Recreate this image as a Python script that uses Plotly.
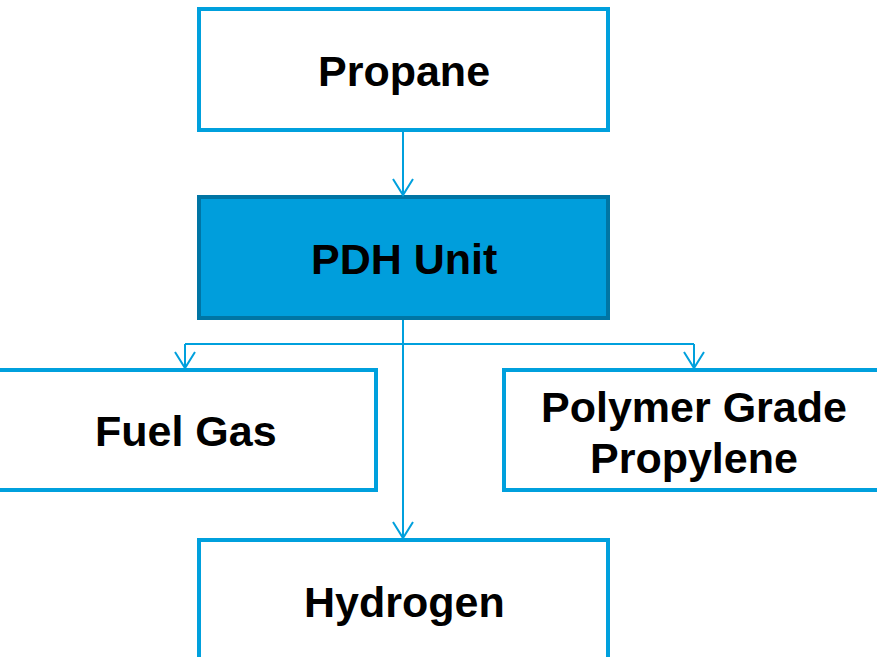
import plotly.graph_objects as go

# Diagram content
labels = ["Propane", "PDH Unit", "Fuel Gas", "Polymer Grade<br>Propylene", "Hydrogen"]
# edges: (from index, to index)
edges = [(0, 1), (1, 2), (1, 3), (1, 4)]

# Geometry (pixel-space, y downward)
W, H = 877, 657
boxes = [
    dict(x0=199, x1=608, y0=9, y1=130),     # Propane
    dict(x0=199, x1=608, y0=197, y1=318),   # PDH Unit
    dict(x0=-8, x1=376, y0=370, y1=490),    # Fuel Gas
    dict(x0=504, x1=890, y0=370, y1=490),   # Polymer Grade Propylene
    dict(x0=199, x1=608, y0=540, y1=665),   # Hydrogen
]
text_pos = [(404, 71), (404, 259), (186, 431), (694, 432), (404, 602)]
highlight = 1
branch_y = 344
line_gap = 51

BLUE = "#00A0DD"
FILL_HI = "#009EDC"
BORDER_HI = "#0075A4"
FONT = dict(family="Liberation Sans, Arial", size=43, color="black")

shapes = []
annotations = []
for i, (lab, b) in enumerate(zip(labels, boxes)):
    hi = i == highlight
    shapes.append(dict(type="rect", xref="x", yref="y",
                       x0=b["x0"], x1=b["x1"], y0=b["y0"], y1=b["y1"],
                       line=dict(color=BORDER_HI if hi else BLUE, width=4),
                       fillcolor=FILL_HI if hi else "white", layer="above"))
    cx, cy = text_pos[i]
    parts = lab.split("<br>")
    n = len(parts)
    for k, part in enumerate(parts):
        y = cy + (k - (n - 1) / 2) * line_gap
        annotations.append(dict(x=cx, y=y, xref="x", yref="y", text="<b>%s</b>" % part,
                                showarrow=False, xanchor="center", yanchor="middle",
                                font=FONT))

def line(x0, y0, x1, y1):
    shapes.append(dict(type="line", xref="x", yref="y", x0=x0, y0=y0, x1=x1, y1=y1,
                       line=dict(color=BLUE, width=2), layer="above"))

def arrowhead(x, y):
    shapes.append(dict(type="path", xref="x", yref="y",
                       path="M %f,%f L %f,%f L %f,%f" % (x - 10, y - 16, x, y, x + 10, y - 16),
                       line=dict(color=BLUE, width=2), layer="above"))

cx_main = 403
tips = {2: 185, 3: 694}
for a, b in edges:
    src = boxes[a]
    dst = boxes[b]
    if b in (1, 4):
        line(cx_main, src["y1"] + 2, cx_main, dst["y0"] - 2)
        arrowhead(cx_main, dst["y0"] - 2)
    else:
        tx = tips[b]
        line(cx_main, branch_y, tx, branch_y)
        line(tx, branch_y, tx, dst["y0"] - 2)
        arrowhead(tx, dst["y0"] - 2)

fig = go.Figure()
fig.update_layout(
    width=W, height=H,
    margin=dict(l=0, r=0, t=0, b=0),
    paper_bgcolor="white", plot_bgcolor="white",
    xaxis=dict(range=[0, W], visible=False, fixedrange=True),
    yaxis=dict(range=[H, 0], visible=False, fixedrange=True),
    shapes=shapes, annotations=annotations, showlegend=False,
)
fig.write_html("out.html", config={"displayModeBar": False},
               post_script="document.body.style.margin='0';document.body.style.overflow='hidden';")
